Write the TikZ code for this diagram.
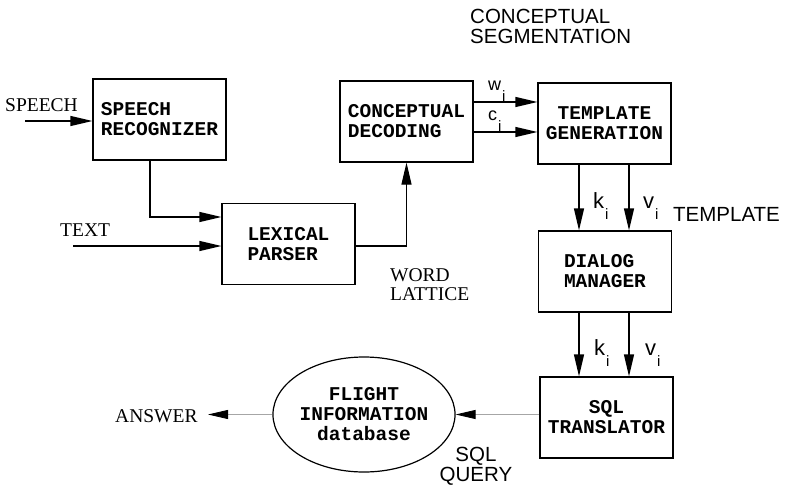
\documentclass[tikz,border=0pt]{standalone}
\usepackage{fontspec}
\usepackage{tikz}
\usepackage{xcolor}
\usetikzlibrary{positioning, arrows.meta}
\usetikzlibrary{shapes, positioning}

\newfontfamily\courfam{Liberation Mono}
\newfontfamily\timesfam{Liberation Serif}
\newfontfamily\helvfam{Liberation Sans}
\newcommand{\boxfont}{\courfam\bfseries\fontsize{19.5}{20}\selectfont}
\newcommand{\idx}[1]{#1\kern1pt\raisebox{-11pt}{\fontsize{15}{15}\selectfont i}}

\tikzset{
    block/.style={draw, line width=1.2pt, minimum width=133pt, minimum height=81pt, inner sep=0pt, font=\boxfont},
    arr/.style={line width=1.2pt, -{Triangle[length=22pt, width=10pt]}},
    thinarr/.style={draw=gray!70, line width=0.8pt, -{Triangle[length=20pt, width=9pt, color=black]}},
    seriflbl/.style={inner sep=0pt, font=\timesfam\fontsize{19.5}{19}\selectfont},
    sanslbl/.style={inner sep=0pt, font=\helvfam\fontsize{20.5}{20}\selectfont},
    keylbl/.style={inner sep=0pt, font=\helvfam\fontsize{22}{22}\selectfont},
    seqlbl/.style={inner sep=0pt, font=\helvfam\fontsize{18}{18}\selectfont}
}

\begin{document}
\begin{tikzpicture}[x=1pt, y=-1pt]
            \useasboundingbox (0,0) rectangle (790,492);

            \node[block, align=left] (recognizer) at (159.5,119.5) {SPEECH\\RECOGNIZER};
            \node[block, align=left] (parser) at (288.5,244) {LEXICAL\\PARSER};
            \node[block, align=left] (decoding) at (406.5,121.5) {CONCEPTUAL\\DECODING};
            \node[block, align=center] (generation) at (604.5,123.5) {TEMPLATE\\GENERATION};
            \node[block, align=left] (manager) at (605,271.5) {DIALOG\\MANAGER};
            \node[block, align=center] (translator) at (606.5,417.5) {SQL\\TRANSLATOR};
            \node[ellipse, draw, line width=1.2pt, minimum width=146pt, minimum height=115pt, inner sep=0pt, font=\boxfont, align=center] (flightdb) at (364,414.5) {FLIGHT\\INFORMATION\\database};

            \coordinate (speechin) at (25,121);
            \coordinate (textin) at (73,246);
            \coordinate (answerout) at (208,414.5);

            \node[seriflbl, anchor=base west] (speechlbl) at (5,112) {SPEECH};
            \node[seriflbl, anchor=base west] (textlbl) at (60,236) {TEXT};
            \node[seriflbl, anchor=west, align=left] (latticelbl) at (390,285) {WORD\\LATTICE};
            \node[seriflbl, anchor=base west] (answerlbl) at (115,422) {ANSWER};
            \node[sanslbl, anchor=west, align=left] (segmentlbl) at (470,26) {CONCEPTUAL\\SEGMENTATION};
            \node[sanslbl, anchor=base west] (templatelbl) at (673,221) {TEMPLATE};
            \node[sanslbl, align=center] (querylbl) at (476,466) {SQL\\QUERY};
            \node[seqlbl, anchor=base west] (wlbl) at (488,91) {\idx{w}};
            \node[seqlbl, anchor=base west] (clbl) at (488,121) {\idx{c}};
            \node[keylbl, anchor=base west] (klbl) at (593,208) {\idx{k}};
            \node[keylbl, anchor=base west] (vlbl) at (643,208) {\idx{v}};
            \node[keylbl, anchor=base west] (klbltwo) at (594,355) {\idx{k}};
            \node[keylbl, anchor=base west] (vlbltwo) at (645,355) {\idx{v}};

            \draw[arr] (speechin) -- (speechin -| recognizer.west);
            \draw[arr] ([xshift=-9.5pt]recognizer.south) |- ([yshift=27pt]parser.west);
            \draw[arr] (textin) -- (textin -| parser.west);
            \draw[arr] ([yshift=-2pt]parser.east) -| (decoding.south);
            \draw[arr] ([yshift=19.5pt]decoding.east) -- ([yshift=19.5pt]decoding.east -| generation.west);
            \draw[arr] ([yshift=-10.5pt]decoding.east) -- ([yshift=-10.5pt]decoding.east -| generation.west);
            \draw[arr] ([xshift=-25.5pt]generation.south) -- ([xshift=-25.5pt]generation.south |- manager.north);
            \draw[arr] ([xshift=24.5pt]generation.south) -- ([xshift=24.5pt]generation.south |- manager.north);
            \draw[arr] ([xshift=-26pt]manager.south) -- ([xshift=-26pt]manager.south |- translator.north);
            \draw[arr] ([xshift=24pt]manager.south) -- ([xshift=24pt]manager.south |- translator.north);
            \draw[thinarr] (translator.west |- flightdb.east) -- (flightdb.east);
            \draw[thinarr] (flightdb.west) -- (answerout);
        \end{tikzpicture}
\end{document}
